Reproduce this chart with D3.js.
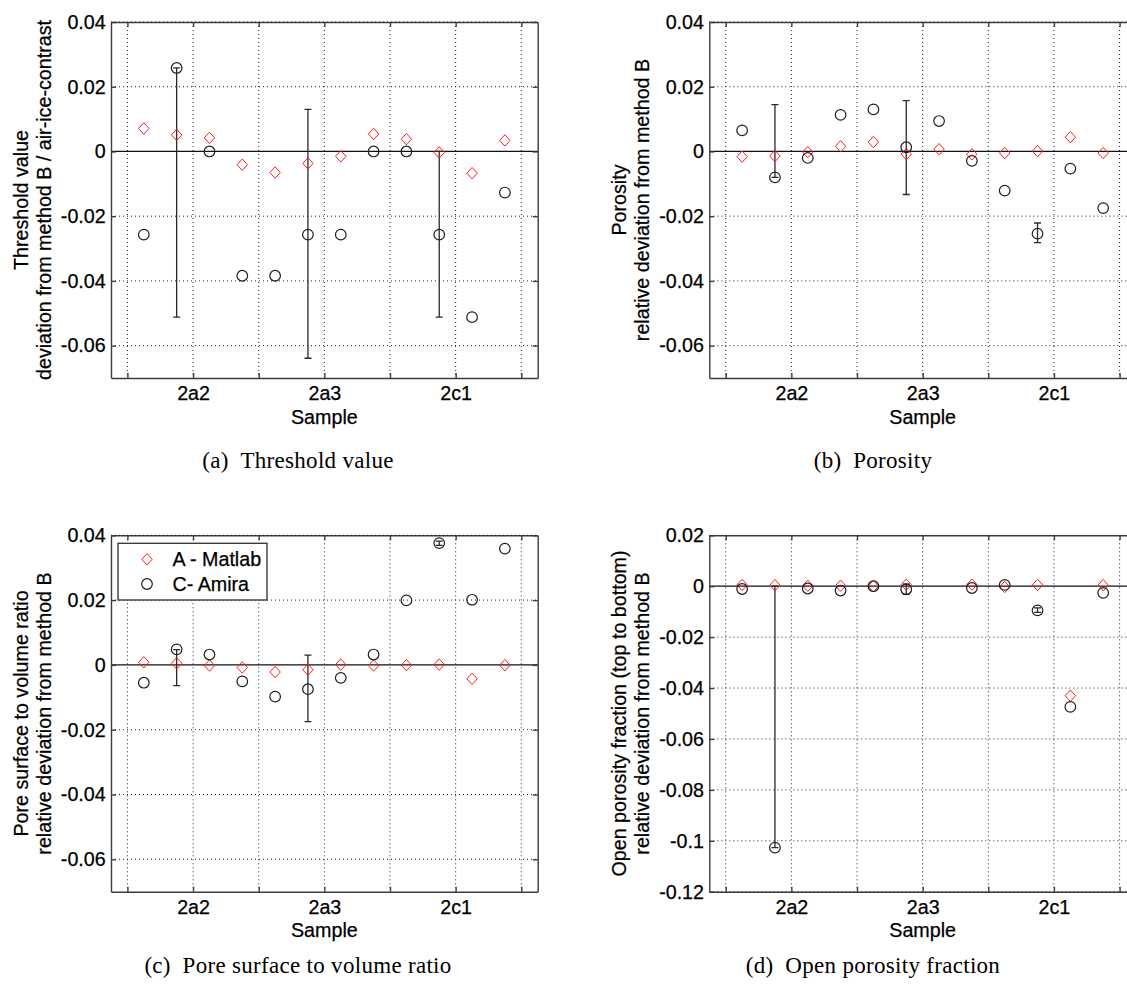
<!DOCTYPE html>
<html>
<head>
<meta charset="utf-8">
<script src="https://cdn.jsdelivr.net/npm/d3@7"></script>
<style>
  body { margin: 0; background: #fff; }
  svg { display: block; }
  .ax text { font-family: "Liberation Sans", Arial, Helvetica, sans-serif; font-size: 19.7px; fill: #000; stroke: #000; stroke-width: 0.25px; }
  .lab { font-family: "Liberation Sans", Arial, Helvetica, sans-serif; font-size: 19.7px; fill: #000; stroke: #000; stroke-width: 0.25px; }
  .cap { font-family: "Liberation Serif", "Times New Roman", serif; font-size: 23px; fill: #000; letter-spacing: 0.3px; }
</style>
</head>
<body>
<svg id="fig" width="1127" height="987"></svg>
<script>
// Sample positions along the x axis (four measurements per sample)
const positions = [1, 2, 3, 4, 5, 6, 7, 8, 9, 10, 11, 12];
const xTickValues = [0.5, 2.5, 4.5, 6.5, 8.5, 10.5, 12.5];
const xTickLabels = ["", "2a2", "", "2a3", "", "2c1", ""];
const seriesNames = ["A - Matlab", "C- Amira"];

// (a) Threshold value
const thresholdMatlab = [0.0071, 0.0051, 0.0042, -0.0041, -0.0065, -0.0037, -0.0015, 0.0054, 0.0038, -0.0003, -0.0067, 0.0034];
const thresholdAmira = [-0.0257, 0.0258, 0, -0.0384, -0.0384, -0.0257, -0.0257, 0, 0, -0.0257, -0.0512, -0.0127];
const thresholdAmiraLow = [null, -0.0512, null, null, null, -0.0639, null, null, null, -0.0512, null, null];
const thresholdAmiraHigh = [null, 0.0258, null, null, null, 0.0130, null, null, null, 0.0000, null, null];

// (b) Porosity
const porosityMatlab = [-0.0016, -0.0014, -0.0002, 0.0016, 0.0029, -0.0008, 0.0007, -0.0009, -0.0005, 0.0001, 0.0044, -0.0005];
const porosityAmira = [0.0065, -0.0080, -0.0020, 0.0113, 0.0130, 0.0013, 0.0094, -0.0029, -0.0121, -0.0254, -0.0053, -0.0175];
const porosityAmiraLow = [null, -0.0080, null, null, null, -0.0133, null, null, null, -0.0282, null, null];
const porosityAmiraHigh = [null, 0.0145, null, null, null, 0.0157, null, null, null, -0.0221, null, null];

// (c) Pore surface to volume ratio
const surfaceMatlab = [0.0008, 0.0005, -0.0002, -0.0008, -0.0022, -0.0015, 0.0001, -0.0002, -0.0001, 0.0001, -0.0043, -0.0001];
const surfaceAmira = [-0.0055, 0.0048, 0.0032, -0.0051, -0.0098, -0.0075, -0.0040, 0.0032, 0.0199, 0.0376, 0.0201, 0.0359];
const surfaceAmiraLow = [null, -0.0064, null, null, null, -0.0175, null, null, null, 0.0369, null, null];
const surfaceAmiraHigh = [null, 0.0047, null, null, null, 0.0030, null, null, null, 0.0382, null, null];

// (d) Open porosity fraction (no value for the seventh measurement)
const openMatlab = [0.0005, 0.0004, 0.0002, 0.0002, 0.0000, 0.0006, null, 0.0006, -0.0003, 0.0005, -0.0430, 0.0004];
const openAmira = [-0.0011, -0.1027, -0.0009, -0.0017, 0.0000, -0.0012, null, -0.0007, 0.0005, -0.0095, -0.0474, -0.0026];
const openAmiraLow = [null, -0.1027, null, null, null, -0.0032, null, null, null, -0.0103, null, null];
const openAmiraHigh = [null, 0.0000, null, null, null, 0.0008, null, null, null, -0.0085, null, null];

const ticksStd = [-0.06, -0.04, -0.02, 0, 0.02, 0.04];
const ticksOpen = [-0.12, -0.1, -0.08, -0.06, -0.04, -0.02, 0, 0.02];

const panels = [
  { left: 111, top: 22, bottom: 378, domain: [-0.07, 0.04], ticks: ticksStd,
    labels: ["Threshold value", "deviation from method B / air-ice-contrast"],
    matlab: thresholdMatlab, amira: thresholdAmira, lo: thresholdAmiraLow, hi: thresholdAmiraHigh,
    caption: "(a)\u2002Threshold value", capX: 298, capY: 468, legend: false },
  { left: 709.3, top: 22, bottom: 378, domain: [-0.07, 0.04], ticks: ticksStd,
    labels: ["Porosity", "relative deviation from method B"],
    matlab: porosityMatlab, amira: porosityAmira, lo: porosityAmiraLow, hi: porosityAmiraHigh,
    caption: "(b)\u2002Porosity", capX: 873, capY: 468, legend: false },
  { left: 111, top: 535.3, bottom: 891.7, domain: [-0.07, 0.04], ticks: ticksStd,
    labels: ["Pore surface to volume ratio", "relative deviation from method B"],
    matlab: surfaceMatlab, amira: surfaceAmira, lo: surfaceAmiraLow, hi: surfaceAmiraHigh,
    caption: "(c)\u2002Pore surface to volume ratio", capX: 298, capY: 973, legend: true },
  { left: 709.3, top: 535.3, bottom: 891.7, domain: [-0.12, 0.02], ticks: ticksOpen,
    labels: ["Open porosity fraction (top to bottom)", "relative deviation from method B"],
    matlab: openMatlab, amira: openAmira, lo: openAmiraLow, hi: openAmiraHigh,
    caption: "(d)\u2002Open porosity fraction", capX: 873, capY: 973, legend: false }
];

const plotWidth = 426.7;
const svg = d3.select("#fig");
const fmt = v => String(+v.toFixed(2));
const diamond = (w, h) => `M0,${-h}L${w},0L0,${h}L${-w},0Z`;
const axisColor = "#3c3c3c";

function drawPanel(p) {
  const g = svg.append("g");
  const x = d3.scaleLinear().domain([0, 13]).range([p.left, p.left + plotWidth]);
  const y = d3.scaleLinear().domain(p.domain).range([p.bottom, p.top]);
  const [x0, x1] = x.range();

  // dotted grid
  g.append("g").selectAll("line").data(xTickValues).join("line")
    .attr("x1", d => x(d)).attr("x2", d => x(d))
    .attr("y1", p.top).attr("y2", p.bottom)
    .attr("stroke", "#222").attr("stroke-width", 1).attr("stroke-dasharray", "1,3");
  g.append("g").selectAll("line").data(p.ticks.filter(t => t !== 0)).join("line")
    .attr("x1", x0).attr("x2", x1)
    .attr("y1", d => y(d)).attr("y2", d => y(d))
    .attr("stroke", "#222").attr("stroke-width", 1).attr("stroke-dasharray", "1,3");

  // zero reference line
  g.append("line").attr("x1", x0).attr("x2", x1)
    .attr("y1", y(0)).attr("y2", y(0))
    .attr("stroke", "#111").attr("stroke-width", 1.3);

  // axes with inward ticks on all four sides
  const styleAxis = sel => {
    sel.attr("class", "ax");
    sel.select(".domain").attr("stroke", axisColor).attr("stroke-width", 1.4);
    sel.selectAll(".tick line").attr("stroke", axisColor).attr("stroke-width", 1.4);
  };
  g.append("g").attr("transform", `translate(0,${p.bottom})`)
    .call(d3.axisBottom(x).tickValues(xTickValues).tickFormat((d, i) => xTickLabels[i])
      .tickSizeInner(-5).tickSizeOuter(0).tickPadding(8.5))
    .call(styleAxis);
  g.append("g").attr("transform", `translate(0,${p.top})`)
    .call(d3.axisTop(x).tickValues(xTickValues).tickFormat("").tickSizeInner(-5).tickSizeOuter(0))
    .call(styleAxis);
  g.append("g").attr("transform", `translate(${x0},0)`)
    .call(d3.axisLeft(y).tickValues(p.ticks).tickFormat(fmt).tickSizeInner(-5).tickSizeOuter(0).tickPadding(5.3))
    .call(styleAxis);
  g.append("g").attr("transform", `translate(${x1},0)`)
    .call(d3.axisRight(y).tickValues(p.ticks).tickFormat("").tickSizeInner(-5).tickSizeOuter(0))
    .call(styleAxis);
  g.selectAll(".ax text").attr("font-family", null).attr("font-size", null);

  // x axis title
  g.append("text").attr("class", "lab")
    .attr("x", (x0 + x1) / 2).attr("y", p.bottom + 45.5)
    .attr("text-anchor", "middle").text("Sample");

  // two-line y axis title
  const cy = (p.top + p.bottom) / 2;
  p.labels.forEach((t, i) => {
    g.append("text").attr("class", "lab")
      .attr("transform", `translate(${x0 - 90 + i * 23},${cy}) rotate(-90)`)
      .attr("text-anchor", "middle").attr("dy", "0.36em").text(t);
  });

  const pts = positions.map((pos, i) => ({
    pos, a: p.matlab[i], c: p.amira[i], lo: p.lo[i], hi: p.hi[i]
  }));

  // error bars of the Amira series
  const eb = pts.filter(d => d.lo !== null && d.hi !== null);
  const ebG = g.append("g").attr("stroke", "#2a2a2a").attr("stroke-width", 1.3).attr("fill", "none");
  ebG.selectAll("path").data(eb).join("path")
    .attr("d", d => {
      const cx = x(d.pos), yl = y(d.lo), yh = y(d.hi), c = 3.5;
      return `M${cx},${yh}V${yl}M${cx - c},${yh}H${cx + c}M${cx - c},${yl}H${cx + c}`;
    });

  // A - Matlab markers
  g.append("g").selectAll("path").data(pts.filter(d => d.a !== null)).join("path")
    .attr("transform", d => `translate(${x(d.pos)},${y(d.a)})`)
    .attr("d", diamond(5.2, 5.7))
    .attr("fill", "none").attr("stroke", "#ff1a1a").attr("stroke-width", 1);

  // C- Amira markers
  g.append("g").selectAll("circle").data(pts.filter(d => d.c !== null)).join("circle")
    .attr("cx", d => x(d.pos)).attr("cy", d => y(d.c)).attr("r", 5.3)
    .attr("fill", "none").attr("stroke", "#1e1e1e").attr("stroke-width", 1.2);

  if (p.legend) {
    const lg = g.append("g");
    lg.append("rect").attr("x", 118).attr("y", 543.3).attr("width", 149).attr("height", 56.7)
      .attr("fill", "#fff").attr("stroke", axisColor).attr("stroke-width", 1.4);
    lg.append("path").attr("transform", "translate(147,559.3)").attr("d", diamond(5.2, 5.7))
      .attr("fill", "none").attr("stroke", "#ff1a1a").attr("stroke-width", 1);
    lg.append("circle").attr("cx", 147).attr("cy", 584).attr("r", 5.3)
      .attr("fill", "none").attr("stroke", "#1e1e1e").attr("stroke-width", 1.2);
    seriesNames.forEach((n, i) => {
      lg.append("text").attr("class", "lab").attr("x", 172.5).attr("y", [559.3, 584][i])
        .attr("dy", "0.36em").text(n);
    });
  }

  // subfigure caption
  svg.append("text").attr("class", "cap")
    .attr("x", p.capX).attr("y", p.capY).attr("text-anchor", "middle").text(p.caption);
}

panels.forEach(drawPanel);
</script>
</body>
</html>
